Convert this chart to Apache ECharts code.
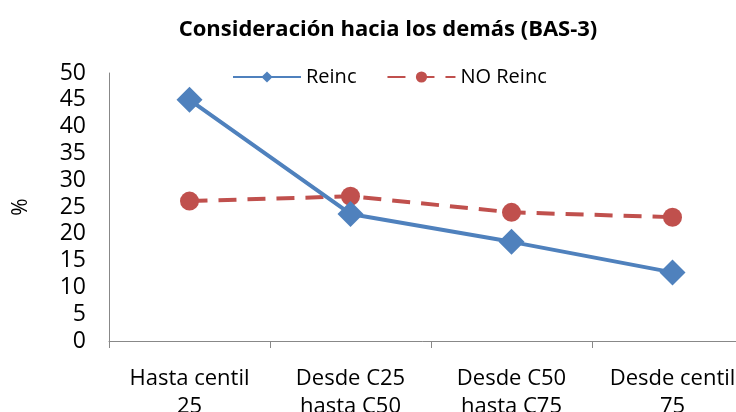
<!DOCTYPE html>
<html>
<head>
<meta charset="utf-8">
<script src="https://cdn.jsdelivr.net/npm/echarts@6/dist/echarts.min.js"></script>
<style>
html,body{margin:0;padding:0;background:#fff;}
#main{width:736px;height:412px;}
</style>
</head>
<body>
<div id="main"></div>
<script>
// categorias y valores
var categorias = ['Hasta centil\n25', 'Desde C25\nhasta C50', 'Desde C50\nhasta C75', 'Desde centil\n75'];
var reinc = [45, 23.7, 18.5, 12.8];
var noReinc = [26.1, 27, 24, 23.1];
var fuente = '"Open Sans", sans-serif';

var myChart = echarts.init(document.getElementById('main'));
var option = {
	title: {
		text: 'Consideración hacia los demás (BAS-3)',
		left: 383,
		textAlign: 'center',
		top: 14,
		textStyle: {fontFamily: fuente, fontSize: 22, fontWeight: 'bold', color: '#000'}
	},
	legend: {
		top: 62,
		left: 227,
		itemGap: 30,
		itemWidth: 68,
		itemHeight: 14,
		textStyle: {fontFamily: fuente, fontSize: 20, color: '#000'},
		data: ['Reinc', 'NO Reinc']
	},
	grid: {left: 109, width: 644, top: 73, height: 268, outerBoundsMode: 'none', containLabel: false},
	xAxis: {
		type: 'category',
		data: categorias,
		boundaryGap: true,
		axisLine: {lineStyle: {color: '#888', width: 1}},
		axisTick: {show: true, length: 7, lineStyle: {color: '#888'}},
		axisLabel: {fontFamily: fuente, fontSize: 22, color: '#000', margin: 24, lineHeight: 28, interval: 0}
	},
	yAxis: {
		type: 'value',
		min: 0,
		max: 50,
		interval: 5,
		name: '%',
		nameLocation: 'middle',
		nameGap: 77,
		nameRotate: 90,
		nameTextStyle: {fontFamily: fuente, fontSize: 21, color: '#000'},
		splitLine: {show: false},
		axisLine: {show: true, lineStyle: {color: '#888', width: 1}},
		axisTick: {show: false},
		axisLabel: {fontFamily: fuente, fontSize: 23, color: '#000', margin: 23}
	},
	series: [
		{
			name: 'Reinc',
			type: 'line',
			data: reinc,
			symbol: 'diamond',
			symbolSize: 26,
			lineStyle: {color: '#4F81BD', width: 4},
			itemStyle: {color: '#4F81BD'},
			z: 3
		},
		{
			name: 'NO Reinc',
			type: 'line',
			data: noReinc,
			symbol: 'circle',
			symbolSize: 19,
			lineStyle: {color: '#C0504D', width: 4, type: [18, 11]},
			itemStyle: {color: '#C0504D'},
			z: 2
		}
	]
};
myChart.setOption(option);
</script>
</body>
</html>
